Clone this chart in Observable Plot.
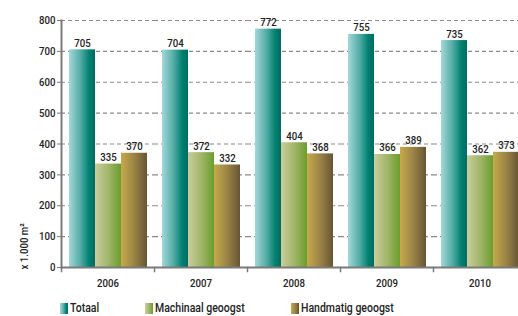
<!DOCTYPE html>
<html>
<head>
<meta charset="utf-8">
<script src="https://cdn.jsdelivr.net/npm/d3@7"></script>
<script src="https://cdn.jsdelivr.net/npm/@observablehq/plot@0.6"></script>
<style>
  html, body { margin: 0; padding: 0; background: #fff; overflow: hidden; }
  #wrap { position: relative; width: 518px; height: 316px; }
  #legend { position: absolute; left: 60px; top: 302px; display: grid; grid-template-columns: 85px 146px auto;
    font-family: Roboto, "Liberation Sans", sans-serif; font-weight: 500; font-size: 12.5px; color: #222; line-height: 12px; }
  .item { display: flex; align-items: center; white-space: nowrap; height: 12px; }
  .sw { width: 8px; height: 11px; flex: none; }
  .lt { display: inline-block; transform: scaleX(0.84); transform-origin: left center; margin-left: 2px; }
</style>
</head>
<body>
<div id="wrap"><div id="chart"></div><div id="legend"></div></div>
<script>
const years = ["2006", "2007", "2008", "2009", "2010"];
const series = ["Totaal", "Machinaal geoogst", "Handmatig geoogst"];
const totaal = [705, 704, 772, 755, 735];
const machinaal = [335, 372, 404, 366, 362];
const handmatig = [370, 332, 368, 389, 373];
const yTicks = [0, 100, 200, 300, 400, 500, 600, 700, 800];
const yLabel = "x 1.000 m²";

const gradients = [
  {id: "gT", stops: [[0, "#a3d8d8"], [0.45, "#52aba5"], [0.78, "#008070"], [1, "#006c60"]]},
  {id: "gM", stops: [[0, "#cacd9e"], [0.5, "#a2b66a"], [1, "#6a9e2c"]]},
  {id: "gH", stops: [[0, "#c6aa4c"], [0.5, "#9c8446"], [1, "#665534"]]}
];

const values = [totaal, machinaal, handmatig];
const data = [];
years.forEach((y, i) => series.forEach((s, k) => data.push({year: y, series: s, value: values[k][i]})));

const font = 'Roboto, "Liberation Sans", sans-serif';

const chart = Plot.plot({
  width: 518,
  height: 296,
  marginTop: 20,
  marginBottom: 29,
  marginLeft: 61,
  marginRight: -8,
  style: {fontFamily: font, fontSize: "11.5px", fontWeight: 500, color: "#222", background: "transparent"},
  fx: {domain: years, padding: 0, label: null},
  x: {domain: series, paddingInner: 0, paddingOuter: 0.266, axis: null},
  y: {domain: [0, 800], label: null},
  color: {type: "ordinal", domain: series, range: gradients.map(g => `url(#${g.id})`)},
  marks: [
    Plot.ruleY(yTicks.filter(d => d > 0), {stroke: "#8a8a8a", strokeWidth: 1.2, strokeDasharray: "4,3"}),
    Plot.barY(data, {fx: "year", x: "series", y: "value", fill: "series"}),
    Plot.ruleY([0], {stroke: "#7a7a7a", strokeWidth: 2}),
    Plot.frame({anchor: "left", facetAnchor: "left", stroke: "#7a7a7a", strokeWidth: 2}),
    Plot.frame({anchor: "left", insetTop: 247, insetBottom: -4, stroke: "#7a7a7a", strokeWidth: 1.5}),
    Plot.text(data, {fx: "year", x: "series", y: "value", text: d => String(d.value), lineAnchor: "bottom", dy: -3, fill: "#222", fontSize: 11.5}),
    Plot.axisY({ticks: yTicks, tickSize: 4, tickPadding: 2, stroke: "#7a7a7a", fill: "#222", label: null, fontSize: 11.5}),
    Plot.text([yLabel], {fx: () => years[0], text: d => d, frameAnchor: "bottom-left", rotate: -90, textAnchor: "start", dx: -34, dy: 2, fill: "#222", fontSize: 11.5}),
    Plot.axisFx({anchor: "bottom", tickSize: 0, tickPadding: 11, label: null, fill: "#222", fontSize: 11.5})
  ]
});

const defs = d3.select(chart).insert("defs", ":first-child");
gradients.forEach(g => {
  const lg = defs.append("linearGradient").attr("id", g.id).attr("x1", "0").attr("x2", "1").attr("y1", "0").attr("y2", "0");
  g.stops.forEach(([o, c]) => lg.append("stop").attr("offset", o).attr("stop-color", c));
});
// condensed look: narrow every text horizontally around its anchor
d3.select(chart).selectAll("text").each(function() {
  const t = this.getAttribute("transform");
  if (t) this.setAttribute("transform", t + " scale(0.84,1)");
});
chart.style.overflow = "hidden";
document.getElementById("chart").appendChild(chart);

const legend = d3.select("#legend");
series.forEach((s, k) => {
  const stops = gradients[k].stops.map(([o, c]) => `${c} ${o * 100}%`).join(", ");
  const it = legend.append("div").attr("class", "item");
  it.append("span").attr("class", "sw").style("background", `linear-gradient(to right, ${stops})`);
  it.append("span").attr("class", "lt").text(s);
});
</script>
</body>
</html>
